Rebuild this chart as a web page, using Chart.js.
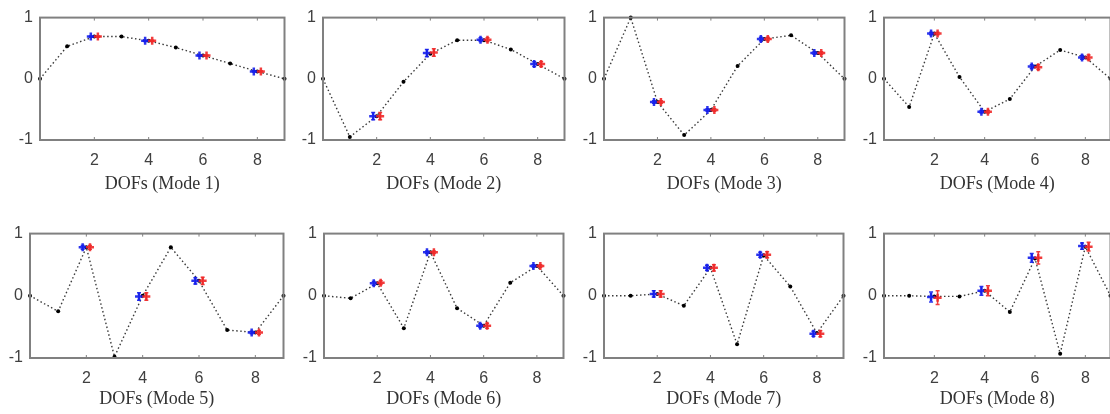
<!DOCTYPE html>
<html>
<head>
<meta charset="utf-8">
<script src="https://cdn.jsdelivr.net/npm/chart.js@4.4.0/dist/chart.umd.min.js"></script>
<style>
  html, body { margin: 0; padding: 0; background: #fff; overflow: hidden; }
  #wrap { position: relative; width: 1110px; height: 414px; overflow: hidden; }
  canvas { position: absolute; }
</style>
</head>
<body>
<div id="wrap"></div>
<script>
// grados de libertad y sensores
const dofs = [0, 1, 2, 3, 4, 5, 6, 7, 8, 9];
const sensorDofs = [2, 4, 6, 8];
const xTicks = [2, 4, 6, 8];
const yTicks = [-1, 0, 1];
const modeLabels = ['DOFs (Mode 1)', 'DOFs (Mode 2)', 'DOFs (Mode 3)', 'DOFs (Mode 4)',
                    'DOFs (Mode 5)', 'DOFs (Mode 6)', 'DOFs (Mode 7)', 'DOFs (Mode 8)'];

// forma modal exacta (linea punteada)
const exactShapes = [
  [0, 0.53, 0.69, 0.69, 0.62, 0.51, 0.38, 0.25, 0.12, 0],
  [0, -0.95, -0.61, -0.05, 0.41, 0.63, 0.63, 0.48, 0.24, 0],
  [0, 1.0, -0.38, -0.92, -0.51, 0.21, 0.65, 0.71, 0.42, 0],
  [0, -0.46, 0.74, 0.03, -0.54, -0.33, 0.20, 0.47, 0.35, 0],
  [0, -0.25, 0.78, -0.98, 0.0, 0.78, 0.24, -0.55, -0.59, 0],
  [0, -0.04, 0.20, -0.52, 0.70, -0.20, -0.48, 0.21, 0.48, 0],
  [0, 0.0, 0.03, -0.16, 0.45, -0.78, 0.65, 0.15, -0.60, 0],
  [0, 0.0, -0.01, -0.01, 0.08, -0.26, 0.60, -0.93, 0.79, 0]
];

// estimaciones en los sensores (azul / rojo) y sus barras de error
const blueMeans = [
  [0.69, 0.62, 0.38, 0.12],
  [-0.61, 0.42, 0.64, 0.24],
  [-0.38, -0.51, 0.65, 0.42],
  [0.74, -0.54, 0.20, 0.35],
  [0.78, -0.01, 0.24, -0.59],
  [0.20, 0.70, -0.48, 0.48],
  [0.03, 0.45, 0.66, -0.61],
  [-0.02, 0.08, 0.61, 0.80]
];
const redMeans = [
  [0.69, 0.62, 0.38, 0.12],
  [-0.61, 0.43, 0.64, 0.24],
  [-0.38, -0.51, 0.65, 0.42],
  [0.74, -0.54, 0.19, 0.35],
  [0.78, -0.01, 0.24, -0.59],
  [0.21, 0.70, -0.48, 0.48],
  [0.03, 0.45, 0.66, -0.61],
  [-0.03, 0.08, 0.61, 0.79]
];
const blueErr = [
  [0.01, 0.01, 0.01, 0.01],
  [0.06, 0.06, 0.03, 0.04],
  [0.02, 0.02, 0.03, 0.02],
  [0.02, 0.02, 0.03, 0.03],
  [0.03, 0.06, 0.05, 0.02],
  [0.03, 0.02, 0.03, 0.02],
  [0.05, 0.04, 0.04, 0.04],
  [0.08, 0.07, 0.07, 0.05]
];
const redErr = [
  [0.01, 0.01, 0.01, 0.01],
  [0.06, 0.06, 0.03, 0.04],
  [0.02, 0.02, 0.03, 0.02],
  [0.02, 0.02, 0.04, 0.04],
  [0.03, 0.06, 0.06, 0.03],
  [0.03, 0.02, 0.04, 0.02],
  [0.05, 0.05, 0.05, 0.05],
  [0.11, 0.08, 0.10, 0.07]
];
const offset = 0.13; // desplazamiento de azul/rojo alrededor del sensor

// area de cada grafico [left, top, width, height]
const areas = [
  [40, 9, 245, 131], [323, 9, 242, 131], [604, 9, 241, 131], [884, 9, 227, 131],
  [30, 225, 254, 133], [324, 225, 240, 133], [604, 225, 240, 133], [884, 225, 227, 133]
];
const yW = 40, padTop = 8, padR = 6;
const xH = [55, 52];

const frame = {
  id: 'frame',
  afterDraw(chart) {
    const {ctx, chartArea: a, scales} = chart;
    ctx.save();
    ctx.strokeStyle = '#808080';
    ctx.lineWidth = 2;
    ctx.strokeRect(a.left, a.top, a.right - a.left, a.bottom - a.top);
    ctx.lineWidth = 1;
    xTicks.forEach(v => {
      const px = scales.x.getPixelForValue(v);
      ctx.beginPath();
      ctx.moveTo(px, a.top); ctx.lineTo(px, a.top + 3);
      ctx.moveTo(px, a.bottom); ctx.lineTo(px, a.bottom - 3);
      ctx.stroke();
    });
    ctx.restore();
  }
};

const errorBars = {
  id: 'errorBars',
  afterDatasetsDraw(chart) {
    const {ctx, scales} = chart;
    chart.data.datasets.forEach((ds, di) => {
      if (!ds.errors) return;
      const meta = chart.getDatasetMeta(di);
      ctx.save();
      ctx.strokeStyle = ds.borderColor;
      ctx.lineWidth = 1.5;
      meta.data.forEach((pt, i) => {
        const v = ds.data[i].y, e = ds.errors[i];
        const y1 = scales.y.getPixelForValue(v + e);
        const y2 = scales.y.getPixelForValue(v - e);
        ctx.beginPath();
        ctx.moveTo(pt.x, y1); ctx.lineTo(pt.x, y2);
        ctx.moveTo(pt.x - 2, y1); ctx.lineTo(pt.x + 2, y1);
        ctx.moveTo(pt.x - 2, y2); ctx.lineTo(pt.x + 2, y2);
        ctx.stroke();
      });
      ctx.restore();
    });
  }
};

const wrap = document.getElementById('wrap');

const plot = (m) => {
  const [L, T, W, H] = areas[m];
  const row = m < 4 ? 0 : 1;
  const cv = document.createElement('canvas');
  const cw = W + yW + padR, ch = padTop + H + xH[row];
  cv.width = cw; cv.height = ch;
  cv.style.left = (L - yW) + 'px';
  cv.style.top = (T - padTop) + 'px';
  cv.style.width = cw + 'px';
  cv.style.height = ch + 'px';
  wrap.appendChild(cv);

  const exact = dofs.map((d, i) => ({x: d, y: exactShapes[m][i]}));
  const blue = sensorDofs.map((d, i) => ({x: d - offset, y: blueMeans[m][i]}));
  const red = sensorDofs.map((d, i) => ({x: d + offset, y: redMeans[m][i]}));

  new Chart(cv.getContext('2d'), {
    type: 'scatter',
    data: {
      datasets: [
        {
          label: 'exacta',
          data: exact,
          showLine: true,
          borderColor: '#3a3a3a',
          borderWidth: 1.4,
          borderDash: [1.5, 2.5],
          pointRadius: 2,
          pointBackgroundColor: '#000',
          pointBorderWidth: 0,
          clip: false,
          order: 3
        },
        {
          label: 'azul',
          data: blue,
          errors: blueErr[m],
          borderColor: 'rgba(20, 30, 235, 0.9)',
          backgroundColor: 'rgba(20, 30, 235, 0.9)',
          pointStyle: 'cross',
          pointRadius: 4,
          pointBorderWidth: 2.5,
          clip: false,
          order: 2
        },
        {
          label: 'roja',
          data: red,
          errors: redErr[m],
          borderColor: 'rgba(240, 40, 40, 0.9)',
          backgroundColor: 'rgba(240, 40, 40, 0.9)',
          pointStyle: 'cross',
          pointRadius: 4,
          pointBorderWidth: 2.5,
          clip: false,
          order: 1
        }
      ]
    },
    options: {
      responsive: false,
      maintainAspectRatio: false,
      animation: false,
      devicePixelRatio: 1,
      layout: { padding: { top: padTop, right: padR, left: 0, bottom: 0 } },
      plugins: { legend: { display: false }, tooltip: { enabled: false } },
      scales: {
        x: {
          type: 'linear',
          min: 0, max: 9,
          grid: { display: false, drawTicks: false },
          border: { display: false },
          afterBuildTicks: (s) => { s.ticks = xTicks.map(v => ({value: v})); },
          afterFit: (s) => { s.height = xH[row]; },
          ticks: {
            color: '#404040',
            padding: 11,
            font: { family: 'Liberation Sans', size: 16 },
            callback: (v) => String(v)
          },
          title: {
            display: true,
            text: modeLabels[m],
            color: '#333',
            padding: 0,
            font: { family: 'Liberation Serif', size: 18 }
          }
        },
        y: {
          min: -1, max: 1,
          grid: { display: false, drawTicks: false },
          border: { display: false },
          afterBuildTicks: (s) => { s.ticks = yTicks.map(v => ({value: v})); },
          afterFit: (s) => { s.width = yW; },
          ticks: {
            color: '#404040',
            padding: 7,
            font: { family: 'Liberation Sans', size: 16 },
            callback: (v) => String(v)
          }
        }
      }
    },
    plugins: [frame, errorBars]
  });
};

for (let m = 0; m < 8; m++) plot(m);
</script>
</body>
</html>
